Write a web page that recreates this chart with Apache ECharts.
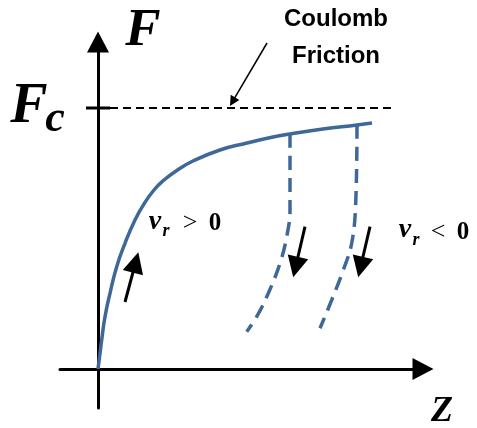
<!DOCTYPE html>
<html>
<head>
<meta charset="utf-8">
<script src="https://cdn.jsdelivr.net/npm/echarts@6/dist/echarts.min.js"></script>
<style>
  html, body { margin: 0; padding: 0; background: #fff; }
  #chart { width: 477px; height: 428px; }
</style>
</head>
<body>
<div id="chart"></div>
<script>
// loading curve F(z) for v_r > 0 (units: z and F, origin at 0)
const curveZ = [0, 0.037, 0.07, 0.12, 0.187, 0.27, 0.37, 0.46, 0.56, 0.66, 0.78, 0.95, 1.22, 1.49, 1.75, 1.92, 2.25, 2.59, 2.74];
const curveF = [0, 0.29, 0.523, 0.757, 1.023, 1.257, 1.49, 1.65, 1.79, 1.89, 1.98, 2.08, 2.19, 2.26, 2.32, 2.35, 2.40, 2.44, 2.46];

// unloading curves for v_r < 0
const unload1Z = [1.92, 1.92, 1.887, 1.82, 1.703, 1.587, 1.487];
const unload1F = [2.35, 1.59, 1.323, 1.057, 0.757, 0.523, 0.373];
const unload2Z = [2.59, 2.577, 2.537, 2.453, 2.337, 2.22];
const unload2F = [2.44, 1.657, 1.257, 0.99, 0.69, 0.407];

// Coulomb friction level
const fcLevel = 2.61;
const fcLineZ = [0.12, 2.98];
const fcTickZ = [-0.12, 0.12];

// direction arrows [from, to]
const dirArrows = [
  [[0.27, 0.67], [0.376, 1.065]],
  [[2.07, 1.423], [1.976, 1.02]],
  [[2.72, 1.423], [2.626, 1.02]]
];
const noteArrow = [[1.69, 3.26], [1.345, 2.673]];

const zip = (xs, ys) => xs.map((x, i) => [x, ys[i]]);

const blue = '#3f6898';
const chart = echarts.init(document.getElementById('chart'), null, { renderer: 'canvas' });

const axisCommon = {
  type: 'value',
  axisLine: {
    onZero: true,
    symbol: ['none', 'triangle'],
    symbolSize: [22, 21],
    lineStyle: { color: '#000', width: 3 }
  },
  axisTick: { show: false },
  axisLabel: { show: false },
  splitLine: { show: false }
};

const txt = (text, x, y, font) => ({
  type: 'text',
  x: x,
  y: y,
  style: { text: text, font: font, fill: '#000', align: 'center', verticalAlign: 'middle' }
});

const serifBI = (px) => 'italic bold ' + px + 'px "Liberation Serif"';

const option = {
  animation: false,
  grid: { left: 60, right: 54, top: 42, bottom: 20 },
  xAxis: Object.assign({}, axisCommon, { min: -0.38, max: 3.25 }),
  yAxis: Object.assign({}, axisCommon, { min: -0.39, max: 3.27 }),
  series: [
    {
      type: 'line',
      data: zip(fcLineZ, [fcLevel, fcLevel]),
      symbol: 'none',
      lineStyle: { color: '#000', width: 2, type: [8, 5] }
    },
    {
      type: 'line',
      data: zip(fcTickZ, [fcLevel, fcLevel]),
      symbol: 'none',
      lineStyle: { color: '#000', width: 3 }
    },
    {
      type: 'line',
      data: zip(curveZ, curveF),
      smooth: 0.5,
      symbol: 'none',
      lineStyle: { color: blue, width: 3.5 }
    },
    {
      type: 'line',
      data: zip(unload1Z, unload1F),
      smooth: 0.4,
      symbol: 'none',
      lineStyle: { color: blue, width: 3.5, type: [14, 8] }
    },
    {
      type: 'line',
      data: zip(unload2Z, unload2F),
      smooth: 0.4,
      symbol: 'none',
      lineStyle: { color: blue, width: 3.5, type: [14, 8] }
    },
    {
      type: 'lines',
      coordinateSystem: 'cartesian2d',
      clip: false,
      symbol: ['none', 'triangle'],
      symbolSize: 21,
      lineStyle: { color: '#000', width: 3, opacity: 1 },
      data: dirArrows.map(a => ({ coords: a }))
    },
    {
      type: 'lines',
      coordinateSystem: 'cartesian2d',
      clip: false,
      symbol: ['none', 'triangle'],
      symbolSize: 10,
      lineStyle: { color: '#000', width: 1.5, opacity: 1 },
      data: [{ coords: noteArrow }]
    }
  ],
  graphic: {
    elements: [
      txt('F', 143, 31, serifBI(53)),
      txt('F', 29, 108, serifBI(56)),
      txt('c', 55, 120, serifBI(44)),
      txt('Z', 442, 412, serifBI(36)),
      txt('Coulomb', 336, 19, 'bold 24px "Liberation Sans"'),
      txt('Friction', 336, 56, 'bold 24px "Liberation Sans"'),
      txt('v', 155, 222, serifBI(28)),
      txt('r', 166, 231, serifBI(18)),
      txt('>', 190, 223, '26px "Liberation Serif"'),
      txt('0', 215, 224, 'bold 25px "Liberation Serif"'),
      txt('v', 405, 230, serifBI(28)),
      txt('r', 416, 240, serifBI(18)),
      txt('<', 438, 232, '26px "Liberation Serif"'),
      txt('0', 463, 233, 'bold 25px "Liberation Serif"')
    ]
  }
};

chart.setOption(option);
</script>
</body>
</html>
